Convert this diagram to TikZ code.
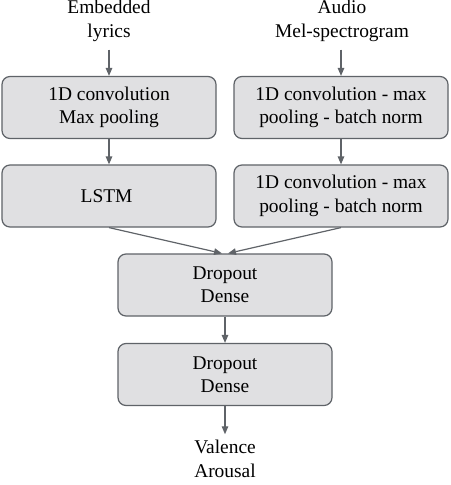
\documentclass[tikz,border=0pt]{standalone}
\usepackage{fontspec}
\setmainfont{Liberation Serif}
\usetikzlibrary{arrows.meta}
\definecolor{boxfill}{HTML}{E0E0E2}
\definecolor{boxline}{HTML}{5F6368}
\tikzset{
  layer/.style={draw=boxline, fill=boxfill, line width=1.2pt, rounded corners=8pt,
    minimum width=214bp, minimum height=62bp, align=center, inner sep=0pt},
  io text/.style={align=center, inner sep=0pt},
  flow/.style={draw=boxline, line width=1.2pt, -{Triangle[length=8pt,width=6.5pt]}}
}
\begin{document}
\begin{tikzpicture}[x=1bp, y=-1bp, font=\fontsize{19.5}{23.5}\selectfont]
    \useasboundingbox (0,0) rectangle (451,485);

    % inputs
    \node[io text] (lyrics) at (109, 21) { Embedded\\lyrics };
    \node[io text] (audio) at (342, 21) { Audio\\Mel-spectrogram };

    % left branch
    \node[layer] (convL) at (109, 107.5) { 1D convolution\\Max pooling };
    \node[layer] (lstm) at (109, 196) { LSTM };

    % right branch
    \node[layer] (convA) at (341, 107.5) { 1D convolution - max\\pooling - batch norm };
    \node[layer] (convB) at (341, 196) { 1D convolution - max\\pooling - batch norm };

    % merged head
    \node[layer] (dense1) at (225, 285) { Dropout\\Dense };
    \node[layer] (dense2) at (225, 374.5) { Dropout\\Dense };
    \node[io text] (out) at (225, 459) { Valence\\Arousal };

    \draw[flow, shorten <=8bp] (lyrics) -- (convL);
    \draw[flow, shorten <=8bp] (audio.south -| convA.north) -- (convA);
    \draw[flow] (convL) -- (lstm);
    \draw[flow] (convA) -- (convB);
    \draw[flow] (lstm.south) -- ([xshift=-3bp]dense1.north);
    \draw[flow] (convB.south) -- ([xshift=3bp]dense1.north);
    \draw[flow] (dense1) -- (dense2);
    \draw[flow, shorten >=6bp] (dense2) -- (out);
\end{tikzpicture}
\end{document}
